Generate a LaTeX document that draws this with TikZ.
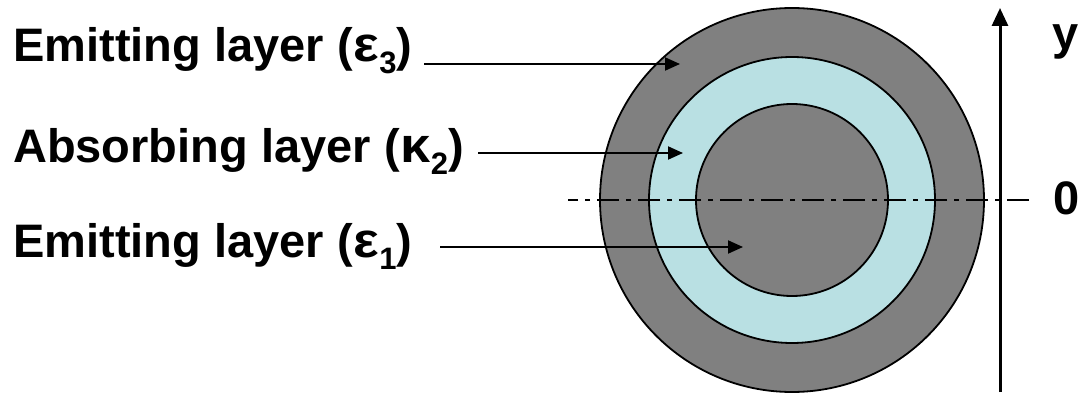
\documentclass[tikz,border=0pt]{standalone}
\usepackage{fontspec}
\setmainfont{Liberation Sans}
\usetikzlibrary{arrows.meta}
\definecolor{ringgray}{RGB}{128,128,128}
\definecolor{ringblue}{RGB}{185,224,227}
\newcommand\lsub[1]{\raisebox{-12pt}{\fontsize{31}{31}\selectfont #1}}
\newcommand\lgr[1]{\hspace{1pt}\scalebox{1.15}[1.05]{#1}}
\begin{document}
\begin{tikzpicture}[x=1pt,y=1pt,
  lbl/.style={anchor=base west, inner sep=0pt, font=\fontsize{47}{56}\selectfont\bfseries},
  ptr/.style={line width=2pt, -{Triangle[length=15pt,width=13pt]}},
  ring/.style={draw=black, line width=1.8pt},
  axisline/.style={line width=3pt, -{Triangle[length=18pt,width=16pt]}},
  centreline/.style={line width=2pt, dash pattern=on 22pt off 7pt on 5pt off 7pt}]
\useasboundingbox (0,0) rectangle (1085,394);
\coordinate (c) at (792,194);
\draw[ring, fill=ringgray] (c) circle (192pt);
\draw[ring, fill=ringblue] (c) circle (143pt);
\draw[ring, fill=ringgray] (c) circle (96pt);
\coordinate (hl) at (568,194);
\coordinate (hr) at (1029,194);
\draw[centreline] (hr) -- (hl);
\coordinate (ab) at (1000,2);
\coordinate (at) at (1000,386);
\draw[axisline] (ab) -- (at);
\node[lbl] (ylab) at (1052,344) {y};
\node[lbl] (zlab) at (1053,179) {0};
\node[lbl] (e3) at (13,332) {Emitting layer (\lgr{ε}\lsub{3})};
\node[lbl] (k2) at (13,231) {Absorbing layer (\lgr{κ}\lsub{2})};
\node[lbl] (e1) at (13,136) {Emitting layer (\lgr{ε}\lsub{1})};
\coordinate (a1s) at (424,330);
\coordinate (a1e) at (680,330);
\coordinate (a2s) at (478,241);
\coordinate (a2e) at (683,241);
\coordinate (a3s) at (440,147);
\coordinate (a3e) at (743,147);
\draw[ptr] (a1s) -- (a1e);
\draw[ptr] (a2s) -- (a2e);
\draw[ptr] (a3s) -- (a3e);
\end{tikzpicture}
\end{document}
